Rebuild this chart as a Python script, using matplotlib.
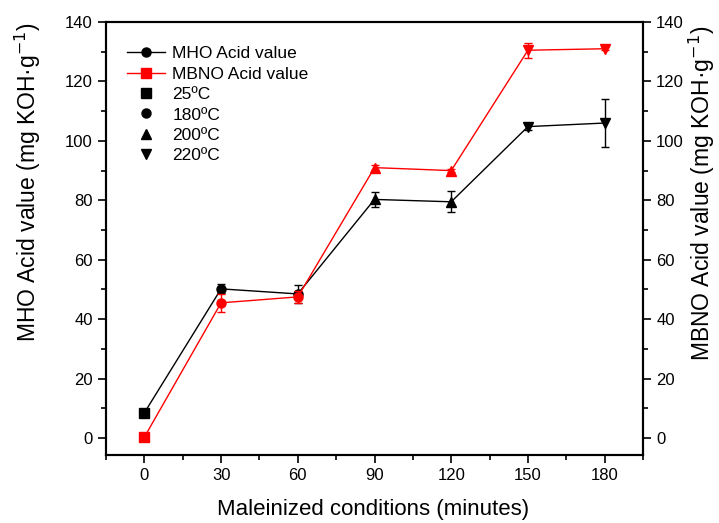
import matplotlib
matplotlib.use("Agg")
import matplotlib.pyplot as plt
from matplotlib.lines import Line2D
from matplotlib.ticker import MultipleLocator

plt.rcParams['font.family'] = ['Liberation Sans', 'DejaVu Sans']

minutes = [0, 30, 60, 90, 120, 150, 180]
mho = [8.5, 50.2, 48.5, 80.3, 79.5, 104.8, 106.0]
mho_err = [0.5, 1.5, 3.0, 2.5, 3.5, 1.0, 8.0]
mbno = [0.3, 45.5, 47.5, 91.0, 90.0, 130.5, 131.0]
mbno_err = [0.5, 3.0, 2.0, 0.8, 0.5, 2.5, 0.5]
markers = ['s', 'o', 'o', '^', '^', 'v', 'v']
temp_labels = ['25ºC', '180ºC', '200ºC', '220ºC']
temp_markers = ['s', 'o', '^', 'v']

fig = plt.figure(figsize=(7.19, 5.23), dpi=100)
ax = fig.add_axes([106/719, 1-455/523, (643-106)/719, (455-22)/523])
ax2 = ax.twinx()

ax.plot(minutes, mho, color='black', lw=1, zorder=2)
ax2.plot(minutes, mbno, color='red', lw=1, zorder=2)
for x, y, e, m in zip(minutes, mho, mho_err, markers):
    ax.errorbar(x, y, yerr=e, fmt=m, color='black', ms=6.5, capsize=3, elinewidth=1, capthick=1, zorder=3)
for x, y, e, m in zip(minutes, mbno, mbno_err, markers):
    ax2.errorbar(x, y, yerr=e, fmt=m, color='red', ms=6.5, capsize=3, elinewidth=1, capthick=1, zorder=3)

for a in (ax, ax2):
    a.set_ylim(-5.7, 140)
    a.yaxis.set_major_locator(MultipleLocator(20))
    a.yaxis.set_minor_locator(MultipleLocator(10))
    a.tick_params(axis='y', which='major', length=6, width=1.2, labelsize=12)
    a.tick_params(axis='y', which='minor', length=3.5, width=1.2)
    for s in a.spines.values():
        s.set_linewidth(1.5)
ax.set_xlim(-15, 195)
ax.set_xticks(minutes)
ax.xaxis.set_minor_locator(MultipleLocator(15))
ax.tick_params(axis='x', which='major', length=6, width=1.2, labelsize=12)
ax.tick_params(axis='x', which='minor', length=3.5, width=1.2)

ax.set_xlabel('Maleinized conditions (minutes)', fontsize=16, va='center')
ax.xaxis.set_label_coords(0.497, -0.127)
ax.set_ylabel('MHO Acid value (mg KOH·g$^{-1}$)', fontsize=16.5, va='center')
ax.yaxis.set_label_coords(-0.145, 0.63)
ax2.set_ylabel('MBNO Acid value (mg KOH·g$^{-1}$)', fontsize=16.5, va='center')
ax2.yaxis.set_label_coords(1.11, 0.605)

handles = [
    Line2D([], [], color='black', lw=1, marker='o', ms=6.5),
    Line2D([], [], color='red', lw=1, marker='s', ms=6.5),
] + [Line2D([], [], color='black', lw=0, marker=m, ms=6.5) for m in temp_markers]
labels = ['MHO Acid value', 'MBNO Acid value'] + temp_labels
ax.legend(handles, labels, loc='upper left', bbox_to_anchor=(0.01, 0.98), frameon=False,
          fontsize=12.5, handlelength=2.2, labelspacing=0.3, handletextpad=0.4)

fig.savefig('out.png', dpi=100)
